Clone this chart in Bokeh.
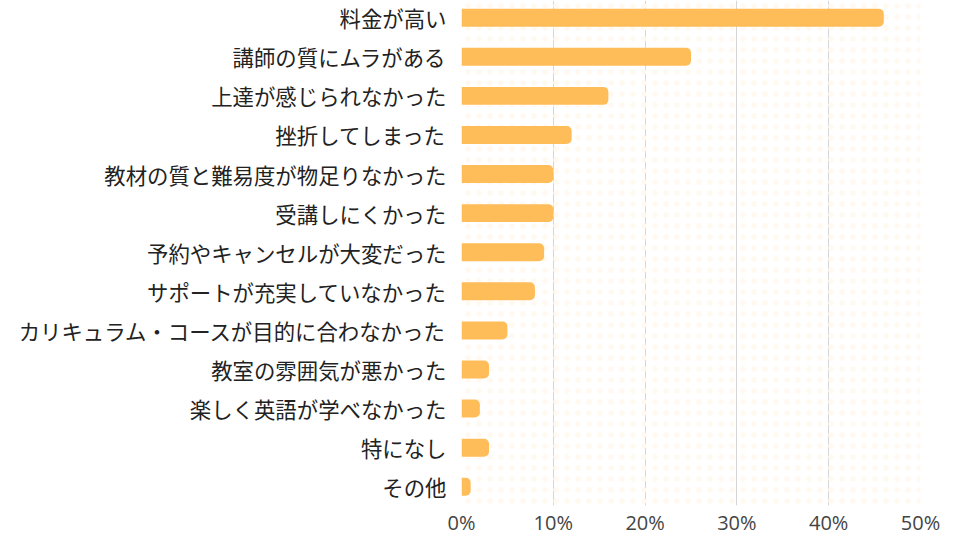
from bokeh.plotting import figure
from bokeh.models import ColumnDataSource, Range1d, FixedTicker, NumeralTickFormatter, BoxAnnotation
from bokeh.embed import file_html
from bokeh.resources import INLINE

categories = [
    "料金が高い",
    "講師の質にムラがある",
    "上達が感じられなかった",
    "挫折してしまった",
    "教材の質と難易度が物足りなかった",
    "受講しにくかった",
    "予約やキャンセルが大変だった",
    "サポートが充実していなかった",
    "カリキュラム・コースが目的に合わなかった",
    "教室の雰囲気が悪かった",
    "楽しく英語が学べなかった",
    "特になし",
    "その他",
]
values = [46, 25, 16, 12, 10, 10, 9, 8, 5, 3, 2, 3, 1]
x_ticks = [0, 10, 20, 30, 40, 50]

pos = list(range(len(categories)))
src = ColumnDataSource(dict(y=pos, v=values))

p = figure(width=960, height=540, output_backend="svg", toolbar_location=None,
           x_range=Range1d(0, 50), y_range=Range1d(12.48, -0.44),
           min_border_left=461, min_border_right=40, min_border_top=0, min_border_bottom=35)
p.outline_line_color = None
p.background_fill_color = "white"
p.border_fill_color = "white"

p.add_layout(BoxAnnotation(fill_color=None, line_color=None, hatch_pattern="dot",
                           hatch_color="#FFF9EF", hatch_scale=11, hatch_weight=3, level="underlay"))

p.hbar(y="y", right="v", left=0, height=0.46, source=src, fill_color="#FFBD59",
       line_color=None, border_radius=(0, 5, 5, 0))

p.xaxis.ticker = FixedTicker(ticks=x_ticks)
p.xaxis.formatter = NumeralTickFormatter(format="0")
p.xaxis.major_label_overrides = {t: f"{t}%" for t in x_ticks}
p.xaxis.axis_line_color = None
p.xaxis.major_tick_line_color = None
p.xaxis.minor_tick_line_color = None
p.xaxis.major_label_text_font = "Open Sans"
p.xaxis.major_label_text_font_size = "20px"
p.xaxis.major_label_text_color = "#444444"
p.xaxis.major_label_standoff = -3

p.yaxis.ticker = FixedTicker(ticks=pos)
p.yaxis.major_label_overrides = {i: c for i, c in enumerate(categories)}
p.yaxis.axis_line_color = None
p.yaxis.major_tick_line_color = None
p.yaxis.minor_tick_line_color = None
p.yaxis.major_label_text_font = "Noto Sans CJK JP"
p.yaxis.major_label_text_font_size = "21.4px"
p.yaxis.major_label_text_color = "#222222"
p.yaxis.major_label_standoff = 9

p.xgrid.ticker = FixedTicker(ticks=x_ticks)
p.xgrid.grid_line_color = "#D6D6D6"
p.ygrid.grid_line_color = None

open("out.html", "w").write(file_html(p, INLINE))
